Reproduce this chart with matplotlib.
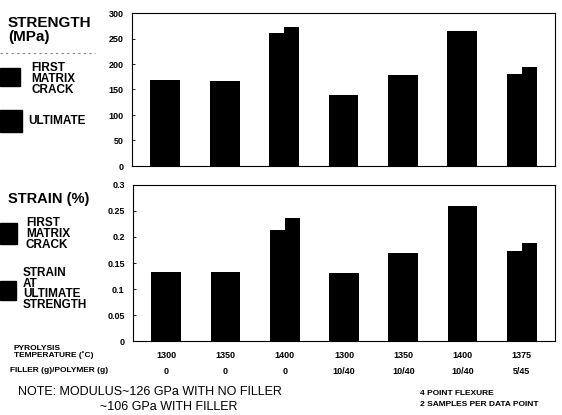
import matplotlib
matplotlib.use('Agg')
import matplotlib.pyplot as plt
from matplotlib.patches import Rectangle
import numpy as np

plt.rcParams['font.family'] = ['Liberation Sans', 'DejaVu Sans']
plt.rcParams['font.weight'] = 'bold'

# datos
temperatura = ['1300', '1350', '1400', '1300', '1350', '1400', '1375']
relleno = ['0', '0', '0', '10/40', '10/40', '10/40', '5/45']
res_grieta = [168, 167, 260, 140, 179, 265, 181]       # MPa, primera grieta
res_ultima = [168, 167, 273, 140, 179, 265, 195]       # MPa, ultima
def_grieta = [0.133, 0.133, 0.213, 0.131, 0.169, 0.260, 0.174]   # %
def_ultima = [0.133, 0.133, 0.237, 0.131, 0.169, 0.260, 0.188]   # %

W, H = 562, 415


def fx(x):
    return x / W


def fy(y):
    return 1 - y / H


fig = plt.figure(figsize=(W/100, H/100), dpi=100)
ax1 = fig.add_axes([fx(132), fy(166), 423/W, (166-13)/H])
ax2 = fig.add_axes([fx(133), fy(341), 422/W, (341-185)/H])

x = np.arange(len(temperatura))
ancho = 0.25

for ax, a, b in [(ax1, res_grieta, res_ultima), (ax2, def_grieta, def_ultima)]:
    ax.bar(x - ancho/2, a, ancho, color='black')
    ax.bar(x + ancho/2, b, ancho, color='black')
    ax.set_xlim(-0.56, 6.56)
    ax.set_xticks([])
    for s in ax.spines.values():
        s.set_linewidth(0.8)
    ax.tick_params(axis='y', direction='in', length=2, width=0.6,
                   labelsize=6.5, pad=6)

ax1.set_ylim(0, 300)
ax1.set_yticks([0, 50, 100, 150, 200, 250, 300])
ax2.set_ylim(0, 0.3)
ax2.set_yticks([0, 0.05, 0.1, 0.15, 0.2, 0.25, 0.3])
ax2.set_yticklabels(['0', '0.05', '0.1', '0.15', '0.2', '0.25', '0.3'])
for t in ax1.get_yticklabels() + ax2.get_yticklabels():
    t.set_fontweight('bold')

# leyendas a la izquierda
fig.text(fx(8), fy(30), 'STRENGTH\n(MPa)', fontsize=11, fontweight='bold',
         va='center', ha='left', linespacing=1.0)
fig.add_artist(plt.Line2D([0, fx(95)], [fy(53), fy(53)], color='gray',
                          lw=0.8, ls=(0, (2, 3))))
fig.add_artist(Rectangle((0, fy(86)), fx(20), 18/H, color='black'))
fig.text(fx(31), fy(79), 'FIRST\nMATRIX\nCRACK', fontsize=8.5,
         fontweight='bold', va='center', ha='left', linespacing=0.85)
fig.add_artist(Rectangle((0, fy(132)), fx(22), 22/H, color='black'))
fig.text(fx(28), fy(121), 'ULTIMATE', fontsize=8.5, fontweight='bold',
         va='center', ha='left')

fig.text(fx(8), fy(199), 'STRAIN (%)', fontsize=10.5, fontweight='bold',
         va='center', ha='left')
fig.add_artist(Rectangle((0, fy(244)), fx(17), 21/H, color='black'))
fig.text(fx(26), fy(234), 'FIRST\nMATRIX\nCRACK', fontsize=8.5,
         fontweight='bold', va='center', ha='left', linespacing=0.85)
fig.add_artist(Rectangle((0, fy(300)), fx(16), 19/H, color='black'))
fig.text(fx(23), fy(289), 'STRAIN\nAT\nULTIMATE\nSTRENGTH', fontsize=8.5,
         fontweight='bold', va='center', ha='left', linespacing=0.85)

# etiquetas inferiores
fig.text(fx(14), fy(352), 'PYROLYSIS\nTEMPERATURE (\u02daC)', fontsize=6,
         fontweight='bold', va='center', ha='left', linespacing=0.9)
fig.text(fx(10), fy(371), 'FILLER (g)/POLYMER (g)', fontsize=6,
         fontweight='bold', va='center', ha='left')
for i in range(len(temperatura)):
    xp = ax2.transData.transform((x[i], 0))[0] / fig.dpi / fig.get_figwidth()
    fig.text(xp, fy(355), temperatura[i], fontsize=6.5, fontweight='bold',
             ha='center', va='center')
    fig.text(xp, fy(371), relleno[i], fontsize=6.5, fontweight='bold',
             ha='center', va='center')

fig.text(fx(18), fy(392), 'NOTE: MODULUS~126 GPa WITH NO FILLER',
         fontsize=9, fontweight='normal', va='center', ha='left')
fig.text(fx(100), fy(407), '~106 GPa WITH FILLER',
         fontsize=9, fontweight='normal', va='center', ha='left')
fig.text(fx(420), fy(393), '4 POINT FLEXURE', fontsize=6,
         fontweight='bold', va='center', ha='left')
fig.text(fx(420), fy(404), '2 SAMPLES PER DATA POINT', fontsize=6,
         fontweight='bold', va='center', ha='left')

fig.savefig('out.png', dpi=100)
